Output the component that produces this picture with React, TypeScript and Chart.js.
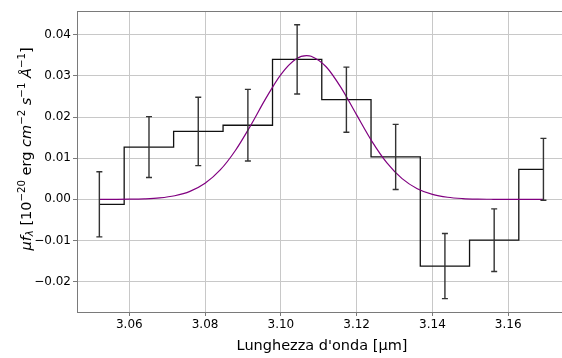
import React, { useEffect, useRef } from 'react';
import { Chart, registerables } from 'chart.js';

Chart.register(...registerables);

// ---- data ----
const binCenters = [3.0521, 3.0652, 3.0782, 3.0913, 3.1043, 3.1173, 3.1303, 3.1433, 3.1563, 3.1693];
const fluxValues = [-0.0012, 0.0127, 0.0165, 0.018, 0.034, 0.0242, 0.0103, -0.0162, -0.0099, 0.0073];
const fluxErrors = [0.0079, 0.0074, 0.0083, 0.0087, 0.0084, 0.0079, 0.0079, 0.0079, 0.0076, 0.0075];

const fitX = [
  3.0521, 3.056, 3.06, 3.064, 3.068, 3.072, 3.076, 3.08, 3.084, 3.088, 3.092, 3.096, 3.1, 3.104,
  3.1068, 3.108, 3.112, 3.116, 3.12, 3.124, 3.128, 3.132, 3.136, 3.14, 3.144, 3.148, 3.152, 3.156,
  3.16, 3.164, 3.168, 3.1693,
];
const fitY = [
  0.0, 0.00001, 0.00004, 0.00013, 0.00035, 0.00087, 0.00193, 0.0039, 0.00714, 0.01187, 0.01789,
  0.02445, 0.03031, 0.03408, 0.0349, 0.03475, 0.03214, 0.02696, 0.02051, 0.01415, 0.00885, 0.00503,
  0.00259, 0.00121, 0.00051, 0.0002, 0.00007, 0.00002, 0.0, 0.0, 0.0, 0.0,
];

const xRange = [3.0462, 3.1742];
const yRange = [-0.02735, 0.04574];
const xTickStep = 0.02;
const yTickStep = 0.01;

const xTitle = "Lunghezza d'onda [µm]";
// y title pieces: text, italic, vertical role
const yTitleParts: { t: string; it?: boolean; sup?: boolean; sub?: boolean }[] = [
  { t: 'μ', it: true },
  { t: 'f', it: true },
  { t: 'λ', it: true, sub: true },
  { t: ' [10' },
  { t: '−20', sup: true },
  { t: ' erg ' },
  { t: 'cm', it: true },
  { t: '−2', sup: true },
  { t: ' ' },
  { t: 's', it: true },
  { t: '−1', sup: true },
  { t: ' ' },
  { t: 'Å', it: true },
  { t: '−1', sup: true },
  { t: ']' },
];

const FONT = "'DejaVu Sans'";

export default function App() {
  const ref = useRef<HTMLCanvasElement>(null);

  useEffect(() => {
    document.body.style.margin = '0';
    document.body.style.overflow = 'hidden';
    const canvas = ref.current!;

    const fmt = (v: number) => {
      const s = (Math.abs(v) < 1e-9 ? 0 : v).toFixed(2);
      return s.replace('-', '\u2212');
    };

    const errorBars = {
      id: 'errorBars',
      afterDatasetsDraw(chart: any) {
        const { ctx, scales } = chart;
        const xs = scales.x;
        const ys = scales.y;
        ctx.save();
        ctx.strokeStyle = '#333333';
        ctx.lineWidth = 1.4;
        binCenters.forEach((xv, i) => {
          const px = xs.getPixelForValue(xv);
          const top = ys.getPixelForValue(fluxValues[i] + fluxErrors[i]);
          const bot = ys.getPixelForValue(fluxValues[i] - fluxErrors[i]);
          ctx.beginPath();
          ctx.moveTo(px, top);
          ctx.lineTo(px, bot);
          ctx.moveTo(px - 3, top);
          ctx.lineTo(px + 3, top);
          ctx.moveTo(px - 3, bot);
          ctx.lineTo(px + 3, bot);
          ctx.stroke();
        });
        ctx.restore();
      },
    };

    const frameAndTitles = {
      id: 'frameAndTitles',
      afterDraw(chart: any) {
        const { ctx, chartArea } = chart;
        ctx.save();
        // top spine
        ctx.strokeStyle = '#7a7a7a';
        ctx.lineWidth = 1;
        ctx.beginPath();
        ctx.moveTo(chartArea.left, Math.round(chartArea.top) + 0.5);
        ctx.lineTo(chartArea.right, Math.round(chartArea.top) + 0.5);
        ctx.stroke();

        ctx.fillStyle = '#000000';
        // x title
        ctx.font = `14.5px ${FONT}`;
        ctx.textAlign = 'center';
        ctx.textBaseline = 'alphabetic';
        ctx.fillText(xTitle, 322, 350);

        // y title (rotated, rich text)
        const main = 14.5;
        const small = 10.2;
        const fontFor = (p: any) => `${p.it ? 'oblique ' : ''}${p.sup || p.sub ? small : main}px ${FONT}`;
        let total = 0;
        const widths = yTitleParts.map((p) => {
          ctx.font = fontFor(p);
          const w = ctx.measureText(p.t).width;
          total += w;
          return w;
        });
        ctx.translate(30.5, 149);
        ctx.rotate(-Math.PI / 2);
        ctx.textAlign = 'left';
        let x = -total / 2;
        yTitleParts.forEach((p, i) => {
          ctx.font = fontFor(p);
          const dy = p.sup ? -6 : p.sub ? 2.8 : 0;
          ctx.fillText(p.t, x, dy);
          x += widths[i];
        });
        ctx.restore();
      },
    };

    const chart = new Chart(canvas, {
      type: 'line',
      data: {
        datasets: [
          {
            label: 'flux',
            data: binCenters.map((x, i) => ({ x, y: fluxValues[i] })),
            stepped: 'middle',
            borderColor: '#111111',
            borderWidth: 1.3,
            pointRadius: 0,
            fill: false,
            order: 2,
          },
          {
            label: 'fit',
            data: fitX.map((x, i) => ({ x, y: fitY[i] })),
            borderColor: '#800080',
            borderWidth: 1.2,
            pointRadius: 0,
            cubicInterpolationMode: 'monotone',
            fill: false,
            order: 1,
          },
        ],
      },
      options: {
        responsive: false,
        animation: false,
        devicePixelRatio: 1,
        layout: { padding: { top: 11, right: 0, left: 0, bottom: 0 } },
        plugins: {
          legend: { display: false },
          tooltip: { enabled: false },
        },
        scales: {
          x: {
            type: 'linear',
            min: xRange[0],
            max: xRange[1],
            afterFit: (s: any) => {
              s.height = 46;
            },
            ticks: {
              stepSize: xTickStep,
              includeBounds: false,
              maxRotation: 0,
              autoSkip: false,
              padding: 2,
              color: '#000000',
              font: { family: FONT, size: 12 },
              callback: (v: any) => fmt(Number(v)),
            },
            grid: {
              color: '#c8c8c8',
              lineWidth: 1,
              tickLength: 4,
              tickColor: '#7a7a7a',
            },
            border: { display: true, color: '#7a7a7a', width: 1 },
          },
          y: {
            type: 'linear',
            min: yRange[0],
            max: yRange[1],
            afterFit: (s: any) => {
              s.width = 77;
            },
            ticks: {
              stepSize: yTickStep,
              includeBounds: false,
              padding: 2,
              color: '#000000',
              font: { family: FONT, size: 12 },
              callback: (v: any) => fmt(Number(v)),
            },
            grid: {
              color: '#c8c8c8',
              lineWidth: 1,
              tickLength: 4,
              tickColor: '#7a7a7a',
            },
            border: { display: true, color: '#7a7a7a', width: 1 },
          },
        },
      },
      plugins: [errorBars, frameAndTitles],
    });

    return () => chart.destroy();
  }, []);

  return (
    <div style={{ width: 562, height: 358, position: 'relative' }}>
      <canvas ref={ref} width={562} height={358} style={{ display: 'block' }} />
    </div>
  );
}
